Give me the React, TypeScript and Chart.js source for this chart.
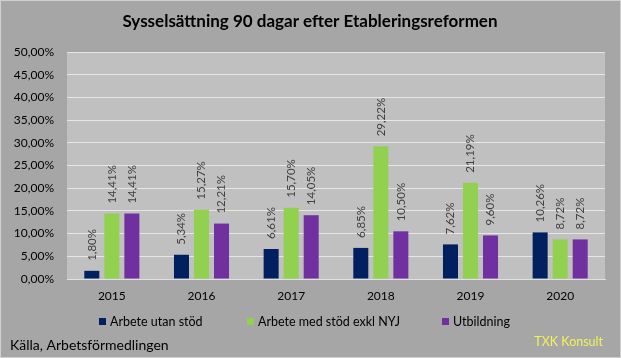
import React, { useEffect, useRef } from "react";
import { Chart, registerables } from "chart.js";

Chart.register(...registerables);

const categories = ["2015", "2016", "2017", "2018", "2019", "2020"];
const arbeteUtanStod = [1.8, 5.34, 6.61, 6.85, 7.62, 10.26];
const arbeteMedStod = [14.41, 15.27, 15.7, 29.22, 21.19, 8.72];
const utbildning = [14.41, 12.21, 14.05, 10.5, 9.6, 8.72];
const seriesNames = ["Arbete utan stöd", "Arbete med stöd exkl NYJ", "Utbildning"];
const seriesColors = ["#002060", "#92d050", "#7030a0"];
const yTicks = [0, 5, 10, 15, 20, 25, 30, 35, 40, 45, 50];
const titleText = "Sysselsättning 90 dagar efter Etableringsreformen";
const sourceText = "Källa, Arbetsförmedlingen";
const brandText = "TXK Konsult";

const FONT = "Lato, 'Open Sans', sans-serif";
const fmt = (v: number) => v.toFixed(2).replace(".", ",") + "%";

const decorPlugin = {
  id: "decor",
  beforeDraw(chart: any) {
    const { ctx, chartArea, width, height } = chart;
    ctx.save();
    ctx.fillStyle = "#a6a6a6";
    ctx.fillRect(0, 0, width, height);
    ctx.strokeStyle = "#d0d0d0";
    ctx.lineWidth = 1;
    ctx.strokeRect(0.5, 0.5, width - 1, height - 1);
    ctx.fillStyle = "#c0c0c0";
    ctx.fillRect(chartArea.left, chartArea.top, chartArea.right - chartArea.left, chartArea.bottom - chartArea.top);
    ctx.restore();
  },
  afterDatasetsDraw(chart: any) {
    const { ctx } = chart;
    ctx.save();
    ctx.font = `11.5px ${FONT}`;
    ctx.fillStyle = "#404040";
    chart.data.datasets.forEach((ds: any, di: number) => {
      const meta = chart.getDatasetMeta(di);
      meta.data.forEach((bar: any, i: number) => {
        const v = ds.data[i];
        ctx.save();
        ctx.translate(bar.x, bar.y - 10);
        ctx.rotate(-Math.PI / 2);
        ctx.textAlign = "left";
        ctx.textBaseline = "middle";
        ctx.fillText(fmt(v), 0, 0);
        ctx.restore();
      });
    });
    ctx.restore();
  },
  afterDraw(chart: any) {
    const { ctx } = chart;
    ctx.save();
    // title
    ctx.fillStyle = "#000";
    ctx.font = `bold 17px ${FONT}`;
    ctx.textAlign = "center";
    ctx.textBaseline = "middle";
    ctx.fillText(titleText, 310, 22);
    // legend
    ctx.font = `12.5px ${FONT}`;
    ctx.textAlign = "left";
    const legendX = [99, 247, 442];
    chart.data.datasets.forEach((ds: any, di: number) => {
      const x = legendX[di];
      ctx.fillStyle = ds.backgroundColor;
      ctx.fillRect(x, 318, 7, 7);
      ctx.fillStyle = "#000";
      ctx.fillText(ds.label, x + 11, 322);
    });
    // source
    ctx.font = `14px ${FONT}`;
    ctx.fillStyle = "#000";
    ctx.fillText(sourceText, 10, 345);
    ctx.fillStyle = "#f2f25a";
    ctx.textAlign = "right";
    ctx.font = `12.5px ${FONT}`;
    ctx.fillText(brandText, 603, 342);
    ctx.restore();
  },
};

export default function App() {
  const ref = useRef<HTMLCanvasElement | null>(null);
  useEffect(() => {
    if (!ref.current) return;
    const chart = new Chart(ref.current, {
      type: "bar",
      data: {
        labels: categories,
        datasets: [arbeteUtanStod, arbeteMedStod, utbildning].map((d, i) => ({
          label: seriesNames[i],
          data: d,
          backgroundColor: seriesColors[i],
          barPercentage: 0.75,
          categoryPercentage: 0.67,
        })),
      },
      options: {
        animation: false,
        responsive: false,
        maintainAspectRatio: false,
        layout: { padding: { top: 52, right: 16, bottom: 49, left: 0 } },
        plugins: {
          legend: { display: false },
          title: { display: false },
          tooltip: { enabled: false },
        },
        scales: {
          x: {
            grid: { display: false, drawTicks: false },
            border: { display: true, color: "#e0e0e0" },
            ticks: { color: "#000", font: { size: 12, family: FONT }, padding: 10 },
            afterFit: (s: any) => { s.height = 30; },
          },
          y: {
            min: 0,
            max: 50,
            afterBuildTicks: (s: any) => { s.ticks = yTicks.map((v) => ({ value: v })); },
            grid: { color: "#e6e6e6", drawTicks: false, lineWidth: 1 },
            border: { display: false },
            ticks: {
              color: "#000",
              font: { size: 12, family: FONT },
              padding: 13,
              callback: (v: any) => fmt(Number(v)),
            },
            afterFit: (s: any) => { s.width = 67; },
          },
        },
      },
      plugins: [decorPlugin],
    });
    return () => chart.destroy();
  }, []);
  return (
    <div style={{ position: "absolute", left: 0, top: 0, width: 621, height: 358 }}>
      <canvas ref={ref} width={621} height={358} style={{ display: "block" }} />
    </div>
  );
}
